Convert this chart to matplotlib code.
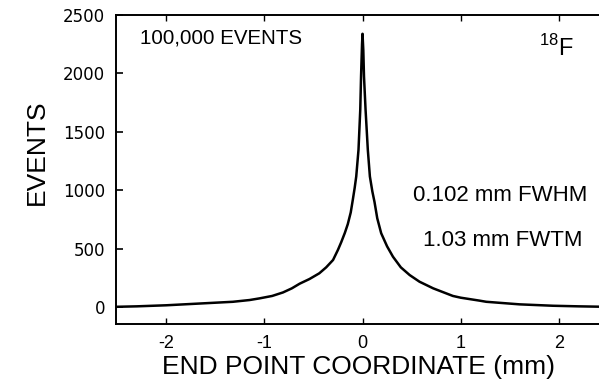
import matplotlib.pyplot as plt

plt.rcParams['font.family'] = ['Liberation Sans', 'DejaVu Sans']

# end point coordinate (mm) and counts
x_mm = [-2.51, -2.3, -2.0, -1.66, -1.32, -1.15, -1.05, -0.92, -0.81, -0.72,
        -0.64, -0.54, -0.44, -0.37, -0.30, -0.25, -0.217, -0.18, -0.15, -0.12,
        -0.099, -0.08, -0.064, -0.041, -0.023, -0.015, -0.005, 0.0, 0.008,
        0.015, 0.031, 0.054, 0.075, 0.10, 0.122, 0.15, 0.19, 0.25, 0.31, 0.39,
        0.48, 0.58, 0.72, 0.92, 1.0, 1.19, 1.26, 1.6, 1.94, 2.2, 2.41]
events = [2, 6, 15, 30, 45, 60, 74, 95, 125, 160,
          200, 240, 289, 340, 403, 490, 555, 635, 710, 810,
          918, 1020, 1118, 1346, 1690, 1975, 2250, 2340, 2200,
          1975, 1690, 1346, 1118, 990, 900, 760, 632, 520, 431, 340,
          274, 217, 160, 95, 80, 55, 45, 23, 11, 6, 3]

xticks = [-2, -1, 0, 1, 2]
yticks = [0, 500, 1000, 1500, 2000, 2500]

fig = plt.figure(figsize=(5.99, 3.9), dpi=100)
ax = fig.add_axes([0.1937, 0.169, 0.8063, 0.7923])

ax.plot(x_mm, events, color='black', lw=1.8)

ax.set_xlim(-2.51, 2.408)
ax.set_ylim(-146, 2500)
ax.set_xticks(xticks)
ax.set_xticklabels(['-2', '-1', '0', '1', '2'], fontsize=13)
ax.set_yticks(yticks)
ax.set_yticklabels([str(v) for v in yticks], fontsize=12, family='DejaVu Sans')
ax.tick_params(axis='y', direction='in', length=5, width=1.2, pad=8)
ax.tick_params(axis='x', direction='in', length=4, width=1, pad=8, top=True)

ax.spines['right'].set_visible(False)
for s in ['left', 'bottom', 'top']:
    ax.spines[s].set_linewidth(1.4)

ax.set_xlabel('END POINT COORDINATE (mm)', fontsize=19)
ax.xaxis.set_label_coords(0.502, -0.10)
ax.set_ylabel('EVENTS', fontsize=19)
ax.yaxis.set_label_coords(-0.139, 0.555)

ax.text(0.0497, 0.926, '100,000 EVENTS', transform=ax.transAxes, fontsize=14.8,
        va='center', ha='left')
ax.text(0.911, 0.893, r'$^{\mathregular{18}}$F', transform=ax.transAxes,
        fontsize=17, va='center', ha='center')
ax.text(0.795, 0.417, '0.102 mm FWHM', transform=ax.transAxes, fontsize=16,
        va='center', ha='center')
ax.text(0.801, 0.272, '1.03 mm FWTM', transform=ax.transAxes, fontsize=16,
        va='center', ha='center')

fig.savefig('out.png', dpi=100)
